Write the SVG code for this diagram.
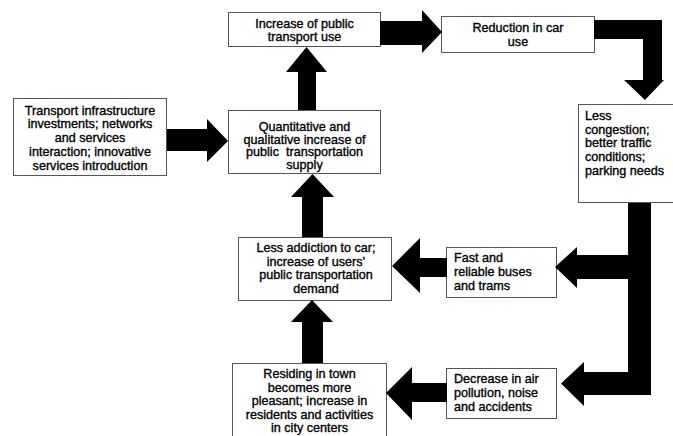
<svg xmlns="http://www.w3.org/2000/svg" width="673" height="436" viewBox="0 0 673 436">
<style>
.box{fill:#fff;stroke:#555;stroke-width:1}
.t{font-family:"Liberation Sans",Arial,sans-serif;font-size:12.6px;fill:#000;stroke:#000;stroke-width:0.35}
.c{text-anchor:middle}
.arr{fill:#000;stroke:none}
</style>
<rect width="673" height="436" fill="#fff"/>
<g id="n-infra">
<rect class="box" x="13.5" y="98.5" width="153" height="77"/>
<text class="t c" x="90" y="114.5">Transport infrastructure</text>
<text class="t c" x="90" y="128.3">investments; networks</text>
<text class="t c" x="90" y="142.1">and services</text>
<text class="t c" x="90" y="155.9">interaction; innovative</text>
<text class="t c" x="90" y="169.7">services introduction</text>
</g>
<g id="n-increase">
<rect class="box" x="228.5" y="12.5" width="152" height="34"/>
<text class="t c" x="304.5" y="27.5">Increase of public</text>
<text class="t c" x="304.5" y="41">transport use</text>
</g>
<g id="n-reduction">
<rect class="box" x="441.5" y="16.5" width="153" height="36"/>
<text class="t c" x="518" y="32">Reduction in car</text>
<text class="t c" x="518" y="45.5">use</text>
</g>
<g id="n-congestion">
<rect class="box" x="578.5" y="104.5" width="96" height="98"/>
<text class="t" x="585" y="120">Less</text>
<text class="t" x="585" y="133.7">congestion;</text>
<text class="t" x="585" y="147.4">better traffic</text>
<text class="t" x="585" y="161.1">conditions;</text>
<text class="t" x="585" y="174.8">parking needs</text>
</g>
<g id="n-supply">
<rect class="box" x="228.5" y="110.5" width="152" height="63"/>
<text class="t c" x="304.5" y="130.5">Quantitative and</text>
<text class="t c" x="304.5" y="143.5">qualitative increase of</text>
<text class="t c" x="304.5" y="156" xml:space="preserve">public  transportation</text>
<text class="t c" x="304.5" y="168.5">supply</text>
</g>
<g id="n-demand">
<rect class="box" x="238.5" y="237.5" width="153" height="63"/>
<text class="t c" x="316" y="252">Less addiction to car;</text>
<text class="t c" x="316" y="265.7">increase of users’</text>
<text class="t c" x="316" y="279.4">public transportation</text>
<text class="t c" x="316" y="293">demand</text>
</g>
<g id="n-residing">
<rect class="box" x="232.5" y="363.5" width="154" height="80"/>
<text class="t c" x="309.5" y="378">Residing in town</text>
<text class="t c" x="309.5" y="391.5">becomes more</text>
<text class="t c" x="309.5" y="405">pleasant; increase in</text>
<text class="t c" x="309.5" y="418.5">residents and activities</text>
<text class="t c" x="309.5" y="432">in city centers</text>
</g>
<g id="n-fast">
<rect class="box" x="446.5" y="247.5" width="110" height="50"/>
<text class="t" x="454" y="262">Fast and</text>
<text class="t" x="454" y="276">reliable buses</text>
<text class="t" x="454" y="290">and trams</text>
</g>
<g id="n-decrease">
<rect class="box" x="446.5" y="368.5" width="110" height="50"/>
<text class="t" x="454" y="383">Decrease in air</text>
<text class="t" x="454" y="397">pollution, noise</text>
<text class="t" x="454" y="410.5">and accidents</text>
</g>
<g id="connectors">
<polygon class="arr" points="167,129 207,129 207,119 228,141 207,162 207,151 167,151"/>
<polygon class="arr" points="298,110 298,72 286,72 306.5,47 327,72 316,72 316,110"/>
<polygon class="arr" points="380,21 422,21 422,10 442,32 422,53 422,45 380,45"/>
<polygon class="arr" points="594,20 662,20 662,80 664,80 645,100 624,80 643,80 643,39 594,39"/>
<polygon class="arr" points="628,203 651,203 651,395 584,395 584,406 561,383.5 584,362 584,372 628,372 628,279 577,279 577,288 555,267 577,247 577,255 628,255"/>
<polygon class="arr" points="447,258 420,258 420,238 392,266 420,293 420,277 447,277"/>
<polygon class="arr" points="447,383 412,383 412,367 386,393 412,420 412,402 447,402"/>
<polygon class="arr" points="302,237 302,197 291,197 312.5,174 334,197 323,197 323,237"/>
<polygon class="arr" points="302,363 302,322 291,322 312,300 333,322 323,322 323,363"/>
</g>
</svg>
